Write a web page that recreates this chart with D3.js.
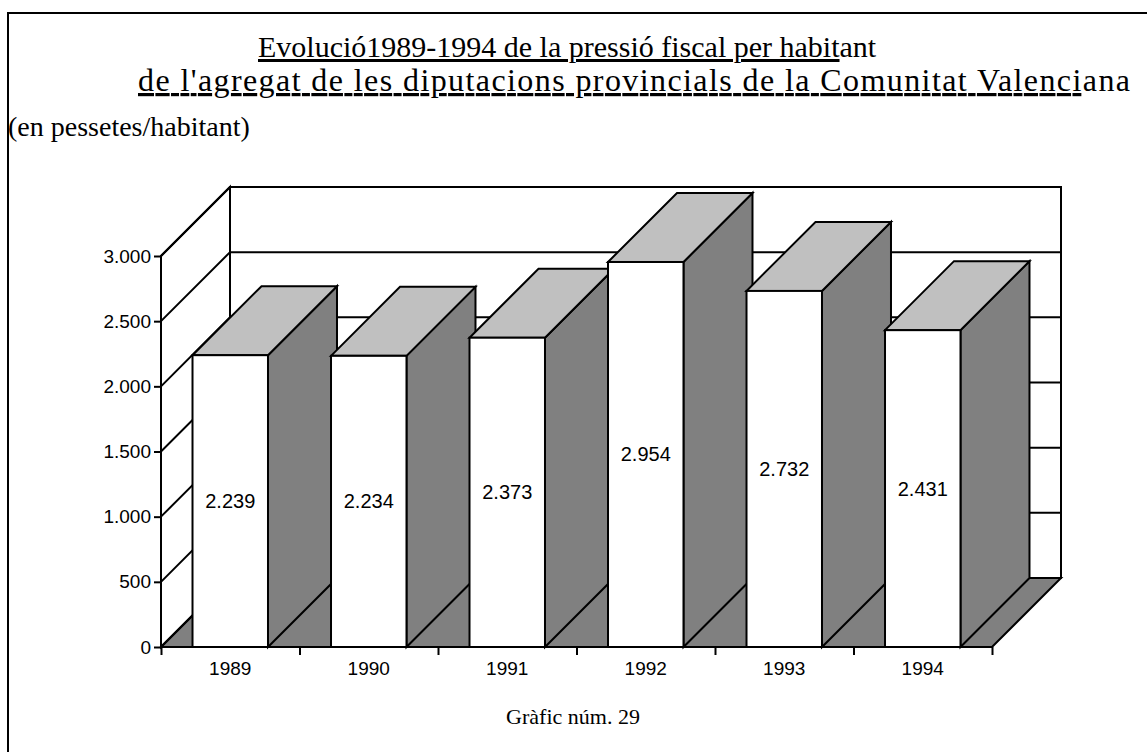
<!DOCTYPE html>
<html>
<head>
<meta charset="utf-8">
<script src="https://cdn.jsdelivr.net/npm/d3@7"></script>
<style>
  html, body { margin: 0; padding: 0; background: #fff; }
  svg { display: block; }
  .serif { font-family: "Liberation Serif", "Times New Roman", serif; fill: #000; }
  .sans { font-family: "Liberation Sans", Arial, sans-serif; fill: #000; }
</style>
</head>
<body>
<div id="chart"></div>
<script>
// Data
const years = ["1989", "1990", "1991", "1992", "1993", "1994"];
const values = [2239, 2234, 2373, 2954, 2732, 2431];
const yTicks = [0, 500, 1000, 1500, 2000, 2500, 3000];

const W = 1147, H = 752;
const fmt = d3.formatLocale({ decimal: ",", thousands: ".", grouping: [3] }).format(",d");

const svg = d3.select("#chart").append("svg")
    .attr("width", W)
    .attr("height", H);

// page frame (only top and left edges show)
svg.append("path")
    .attr("d", `M8,${H} L8,13 L${W},13`)
    .attr("fill", "none")
    .attr("stroke", "#000")
    .attr("stroke-width", 2);

// Titles
const t1 = svg.append("text").attr("class", "serif")
    .attr("x", 258).attr("y", 57).style("font-size", "30px");
t1.append("tspan").style("text-decoration", "underline")
    .text("Evolució1989-1994 de la pressió fiscal per habit");
t1.append("tspan").text("ant");

const t2 = svg.append("text").attr("class", "serif")
    .attr("x", 138).attr("y", 91).style("font-size", "32px")
    .attr("textLength", 992).attr("lengthAdjust", "spacing");
t2.append("tspan").style("text-decoration", "underline")
    .text("de l'agregat de les diputacions provincials de la Comunitat Valenci");
t2.append("tspan").text("ana");

svg.append("text").attr("class", "serif")
    .attr("x", 8).attr("y", 136)
    .style("font-size", "28px")
    .text("(en pessetes/habitant)");

svg.append("text").attr("class", "serif")
    .attr("x", 573).attr("y", 724)
    .attr("text-anchor", "middle")
    .style("font-size", "22px")
    .text("Gràfic núm. 29");

// Chart geometry
const x0 = 161, x1 = 992, y0 = 647;
const dx = 69, dy = 69;

const xScale = d3.scaleBand()
    .domain(years)
    .range([x0, x1])
    .paddingInner(0.455)
    .paddingOuter(0.2275);

const xEdge = d3.scaleLinear().domain([0, years.length]).range([x0, x1]);

const yScale = d3.scaleLinear()
    .domain([0, 3000])
    .range([y0, 256]);

const g = svg.append("g")
    .attr("stroke", "#000")
    .attr("stroke-width", 2)
    .attr("stroke-linejoin", "miter");

const yTop = yScale(3000);

// back wall
g.append("rect")
    .attr("x", x0 + dx).attr("y", yTop - dy)
    .attr("width", x1 - x0).attr("height", y0 - yTop)
    .attr("fill", "#fff");

// left wall
g.append("path")
    .attr("d", `M${x0},${y0} L${x0},${yTop} L${x0 + dx},${yTop - dy} L${x0 + dx},${y0 - dy} Z`)
    .attr("fill", "#fff");

// floor
g.append("path")
    .attr("d", `M${x0},${y0} L${x1},${y0} L${x1 + dx},${y0 - dy} L${x0 + dx},${y0 - dy} Z`)
    .attr("fill", "#808080");

// gridlines on the walls
yTicks.forEach(v => {
    const y = yScale(v);
    g.append("path")
        .attr("fill", "none")
        .attr("d", `M${x0},${y} L${x0 + dx},${y - dy} L${x1 + dx},${y - dy}`);
});

// bars, left to right
years.forEach((yr, i) => {
    const bx = xScale(yr), bw = xScale.bandwidth();
    const by = yScale(values[i]);
    const bar = g.append("g");
    bar.append("path") // side
        .attr("d", `M${bx + bw},${y0} L${bx + bw},${by} L${bx + bw + dx},${by - dy} L${bx + bw + dx},${y0 - dy} Z`)
        .attr("fill", "#808080");
    bar.append("path") // top
        .attr("d", `M${bx},${by} L${bx + dx},${by - dy} L${bx + bw + dx},${by - dy} L${bx + bw},${by} Z`)
        .attr("fill", "#c0c0c0");
    bar.append("rect") // front
        .attr("x", bx).attr("y", by)
        .attr("width", bw).attr("height", y0 - by)
        .attr("fill", "#fff");
});

// bar value labels
svg.selectAll(".val")
    .data(values)
    .enter()
    .append("text")
    .attr("class", "sans")
    .attr("x", (d, i) => xScale(years[i]) + xScale.bandwidth() / 2)
    .attr("y", d => (yScale(d) + y0) / 2)
    .attr("text-anchor", "middle")
    .attr("dominant-baseline", "central")
    .style("font-size", "20px")
    .text(d => fmt(d));

// y axis
const yAxis = svg.append("g")
    .attr("transform", `translate(${x0},0)`)
    .call(d3.axisLeft(yScale).tickValues(yTicks).tickSize(7).tickPadding(3).tickFormat(fmt));
yAxis.select(".domain").attr("stroke-width", 2).attr("d", `M0,${yTop}V${y0}`);
yAxis.selectAll(".tick line").attr("stroke-width", 2);
yAxis.selectAll(".tick text")
    .attr("class", "sans")
    .style("font-size", "19px")
    .style("font-family", "'Liberation Sans', Arial, sans-serif");

// x axis: ticks on category edges, labels at centres
const xTicks = svg.append("g")
    .attr("transform", `translate(0,${y0})`)
    .call(d3.axisBottom(xEdge).tickValues(d3.range(years.length + 1)).tickSize(8).tickFormat(""));
xTicks.select(".domain").attr("stroke-width", 2).attr("d", `M${x0},0H${x1}`);
xTicks.selectAll(".tick line").attr("stroke-width", 2);

const xLabels = svg.append("g")
    .attr("transform", `translate(0,${y0})`)
    .call(d3.axisBottom(xScale).tickSize(0).tickPadding(15));
xLabels.select(".domain").remove();
xLabels.selectAll(".tick text")
    .style("font-size", "19px")
    .style("font-family", "'Liberation Sans', Arial, sans-serif");
</script>
</body>
</html>
